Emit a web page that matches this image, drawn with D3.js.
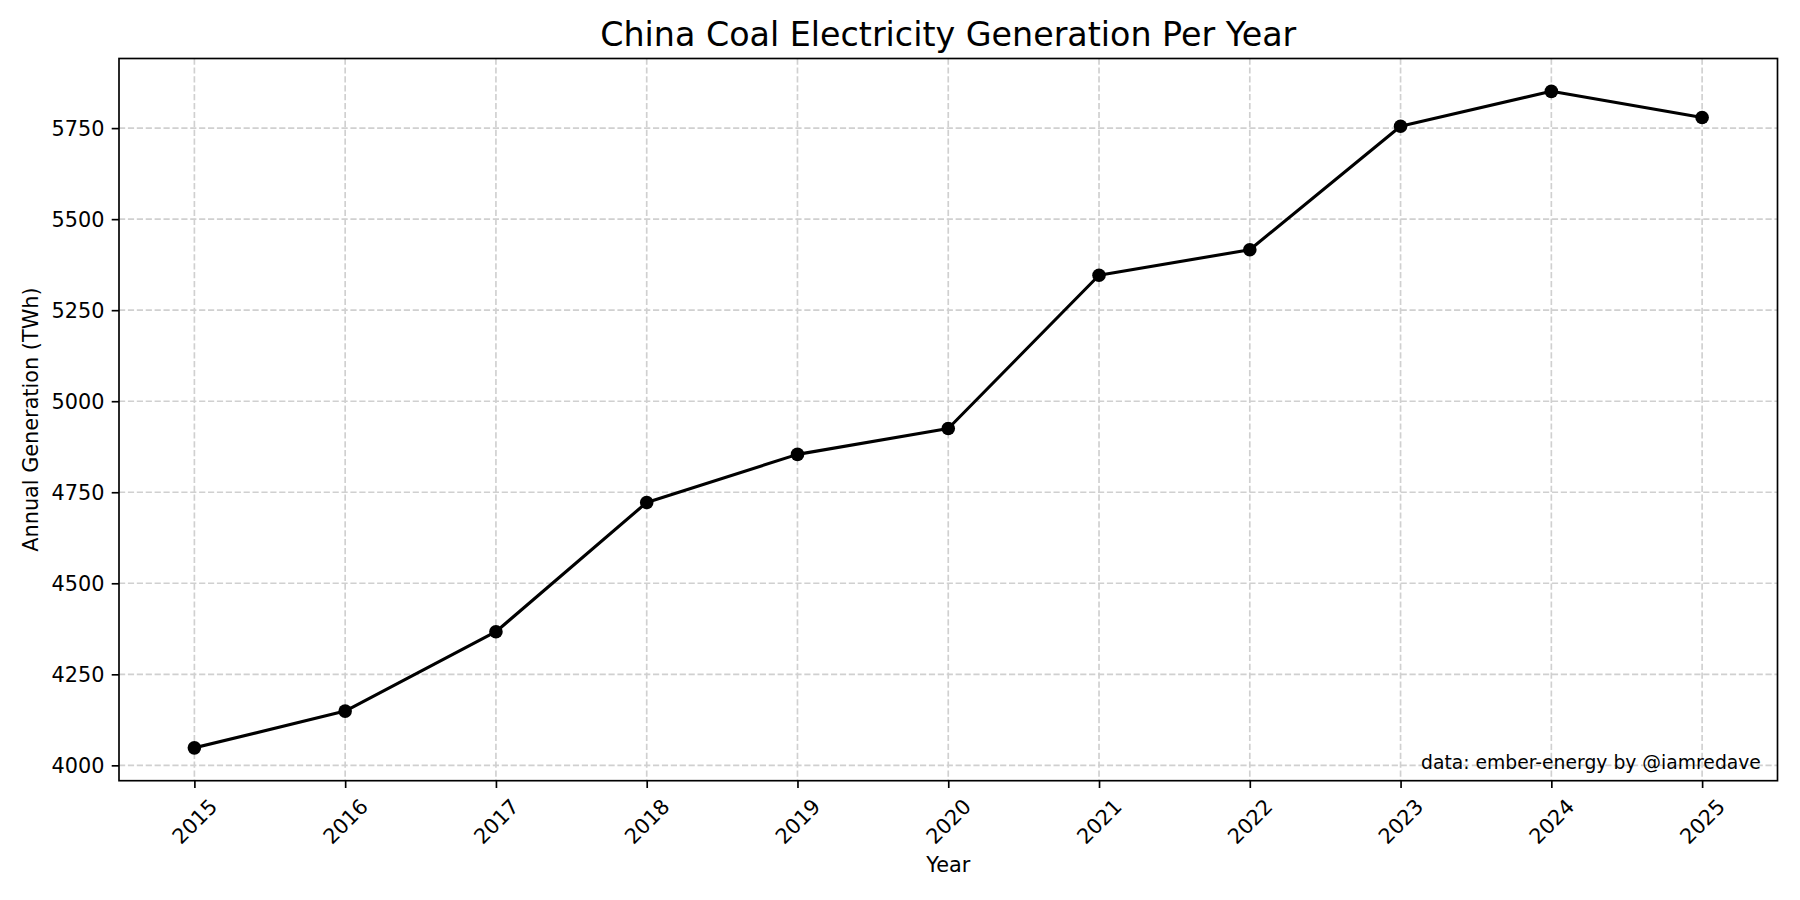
<!DOCTYPE html>
<html>
<head>
<meta charset="utf-8">
<script src="https://cdn.jsdelivr.net/npm/d3@7"></script>
<style>
  html, body { margin: 0; padding: 0; background: #fff; }
  svg { display: block; }
  svg text { font-family: "DejaVu Sans", sans-serif; }
</style>
</head>
<body>
<svg id="chart" width="1800" height="900"></svg>
<script>
const years = [2015, 2016, 2017, 2018, 2019, 2020, 2021, 2022, 2023, 2024, 2025];
const generation = [4048, 4149, 4367, 4722, 4854, 4925, 5346, 5416, 5755, 5851, 5779];
const yTicks = [4000, 4250, 4500, 4750, 5000, 5250, 5500, 5750];
const titleText = "China Coal Electricity Generation Per Year";
const xLabelText = "Year";
const yLabelText = "Annual Generation (TWh)";
const noteText = "data: ember-energy by @iamredave";

const FONT = "DejaVu Sans, sans-serif";
const m = { left: 119, right: 1777.5, top: 58.5, bottom: 780.7 };

const svg = d3.select("#chart");

const xMin = d3.min(years), xMax = d3.max(years);
const xPad = (xMax - xMin) * 0.05;
const x = d3.scaleLinear().domain([xMin - xPad, xMax + xPad]).range([m.left, m.right]);

const yMin = d3.min(generation), yMax = d3.max(generation);
const yPad = (yMax - yMin) * 0.05;
const y = d3.scaleLinear().domain([yMin - yPad, yMax + yPad]).range([m.bottom, m.top]);

// Grid
const grid = svg.append("g").attr("class", "grid");
grid.selectAll("line.gx").data(years).join("line")
  .attr("x1", d => x(d)).attr("x2", d => x(d))
  .attr("y1", m.top).attr("y2", m.bottom)
  .attr("stroke", "#d0d0d0").attr("stroke-width", 1.67)
  .attr("stroke-dasharray", "6.2,2.7");
grid.selectAll("line.gy").data(yTicks).join("line")
  .attr("x1", m.left).attr("x2", m.right)
  .attr("y1", d => y(d)).attr("y2", d => y(d))
  .attr("stroke", "#d0d0d0").attr("stroke-width", 1.67)
  .attr("stroke-dasharray", "6.2,2.7");

// Line + markers
const pts = years.map((yr, i) => ({ yr, v: generation[i] }));
const line = d3.line().x(d => x(d.yr)).y(d => y(d.v));

svg.append("path").datum(pts)
  .attr("d", line).attr("fill", "none")
  .attr("stroke", "#000").attr("stroke-width", 3.1)
  .attr("stroke-linejoin", "round").attr("stroke-linecap", "square");

svg.append("g").selectAll("circle").data(pts).join("circle")
  .attr("cx", d => x(d.yr)).attr("cy", d => y(d.v))
  .attr("r", 6.8).attr("fill", "#000");

// Axes with d3
const xAxis = d3.axisBottom(x).tickValues(years).tickFormat(d3.format("d"))
  .tickSize(7.3).tickPadding(7.3);
const gx = svg.append("g").attr("transform", `translate(0,${m.bottom})`).call(xAxis)
  .attr("font-family", FONT).attr("font-size", 20.8);
gx.select(".domain").remove();
gx.selectAll(".tick line").attr("stroke", "#000").attr("stroke-width", 1.67);
gx.selectAll(".tick text")
  .attr("font-size", 20.8).attr("fill", "#000")
  .attr("text-anchor", "middle")
  .attr("dominant-baseline", "central")
  .attr("y", null).attr("dy", null)
  .attr("transform", "translate(0,41) rotate(-45)");

const yAxis = d3.axisLeft(y).tickValues(yTicks).tickFormat(d3.format("d"))
  .tickSize(7.3).tickPadding(7.3);
const gy = svg.append("g").attr("transform", `translate(${m.left},0)`).call(yAxis)
  .attr("font-family", FONT).attr("font-size", 20.8);
gy.select(".domain").remove();
gy.selectAll(".tick line").attr("stroke", "#000").attr("stroke-width", 1.67);
gy.selectAll(".tick text")
  .attr("font-size", 20.8).attr("fill", "#000")
  .attr("dy", null).attr("dominant-baseline", "central");

// Frame
svg.append("rect")
  .attr("x", m.left).attr("y", m.top)
  .attr("width", m.right - m.left).attr("height", m.bottom - m.top)
  .attr("fill", "none").attr("stroke", "#000").attr("stroke-width", 1.67);

// Title
svg.append("text")
  .attr("x", (m.left + m.right) / 2).attr("y", 45.5)
  .attr("text-anchor", "middle").attr("font-size", 33.3).attr("fill", "#000")
  .text(titleText);

// Axis labels
svg.append("text")
  .attr("x", (m.left + m.right) / 2).attr("y", 872)
  .attr("text-anchor", "middle").attr("font-size", 20.8).attr("fill", "#000")
  .text(xLabelText);

svg.append("text")
  .attr("transform", `translate(38,${(m.top + m.bottom) / 2}) rotate(-90)`)
  .attr("text-anchor", "middle").attr("font-size", 20.8).attr("fill", "#000")
  .text(yLabelText);

// Note
svg.append("text")
  .attr("x", m.left + 0.99 * (m.right - m.left)).attr("y", 769)
  .attr("text-anchor", "end").attr("font-size", 18.75).attr("fill", "#000")
  .text(noteText);
</script>
</body>
</html>
